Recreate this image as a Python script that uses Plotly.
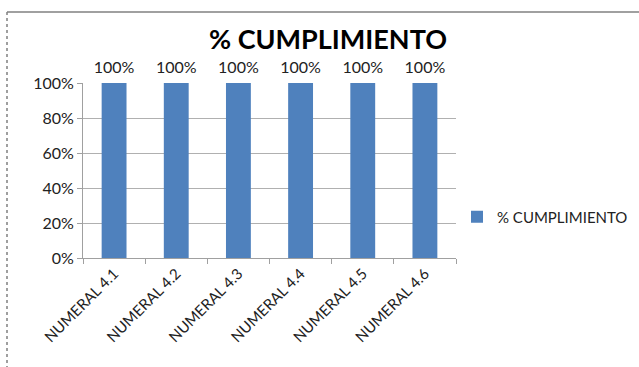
import plotly.graph_objects as go

categories = ["NUMERAL 4.1", "NUMERAL 4.2", "NUMERAL 4.3", "NUMERAL 4.4", "NUMERAL 4.5", "NUMERAL 4.6"]
values = [1.0, 1.0, 1.0, 1.0, 1.0, 1.0]
series_name = "% CUMPLIMIENTO"
y_ticks = [0, 0.2, 0.4, 0.6, 0.8, 1.0]
y_tick_labels = ["0%", "20%", "40%", "60%", "80%", "100%"]

W, H = 639, 367
L, R, T, B = 83, 183, 83, 109
pw, ph = W - L - R, H - T - B

fig = go.Figure()
fig.add_trace(go.Bar(
    x=categories, y=values, name=series_name,
    marker=dict(color="#4F81BD", line=dict(width=0)),
))
fig.add_trace(go.Scatter(
    x=categories, y=values, mode="markers+text",
    marker=dict(size=8, color="rgba(0,0,0,0)"),
    text=[f"{v*100:.0f}%" for v in values],
    textposition="top center", cliponaxis=False, showlegend=False,
    textfont=dict(size=16, color="#222"), hoverinfo="skip",
))

fig.update_layout(
    width=W, height=H,
    margin=dict(l=L, r=R, t=T, b=B, autoexpand=False),
    paper_bgcolor="white", plot_bgcolor="white",
    font=dict(family="Lato, Open Sans, sans-serif", color="#222"),
    bargap=0.6,
    showlegend=True,
    title=dict(text="<b>% CUMPLIMIENTO</b>", x=328/W, xanchor="center",
               y=1 - 40/H, yanchor="middle", font=dict(size=27, color="#000")),
    legend=dict(xref="container", yref="container", x=457/W, y=1 - 217/H,
                xanchor="left", yanchor="middle", itemwidth=30,
                font=dict(size=15, color="#222"), bgcolor="rgba(0,0,0,0)"),
    xaxis=dict(showline=True, linecolor="#A0A0A0", linewidth=1,
               ticks="outside", ticklen=5, tickcolor="#A0A0A0", tickson="boundaries",
               tickangle=-45, tickfont=dict(size=15, color="#222"), showgrid=False),
    yaxis=dict(range=[0, 1], tickvals=y_ticks, ticktext=y_tick_labels,
               showline=True, linecolor="#A0A0A0", linewidth=1,
               ticks="outside", ticklen=5, tickcolor="#A0A0A0",
               showgrid=True, gridcolor="#B0B0B0", gridwidth=1,
               tickfont=dict(size=16, color="#222"), zeroline=False),
)

# outer chart frame (top solid, left dotted)
x0 = (7 - L) / pw
yt = (H - B - 12) / ph
yb = (H - B - H) / ph
fig.add_shape(type="line", xref="paper", yref="paper", x0=x0, x1=(W - L)/pw, y0=yt, y1=yt,
              line=dict(color="#808080", width=1.5))
fig.add_shape(type="line", xref="paper", yref="paper", x0=x0, x1=x0, y0=yt, y1=yb,
              line=dict(color="#808080", width=1.5, dash="dot"))

fig.write_html("out.html")
